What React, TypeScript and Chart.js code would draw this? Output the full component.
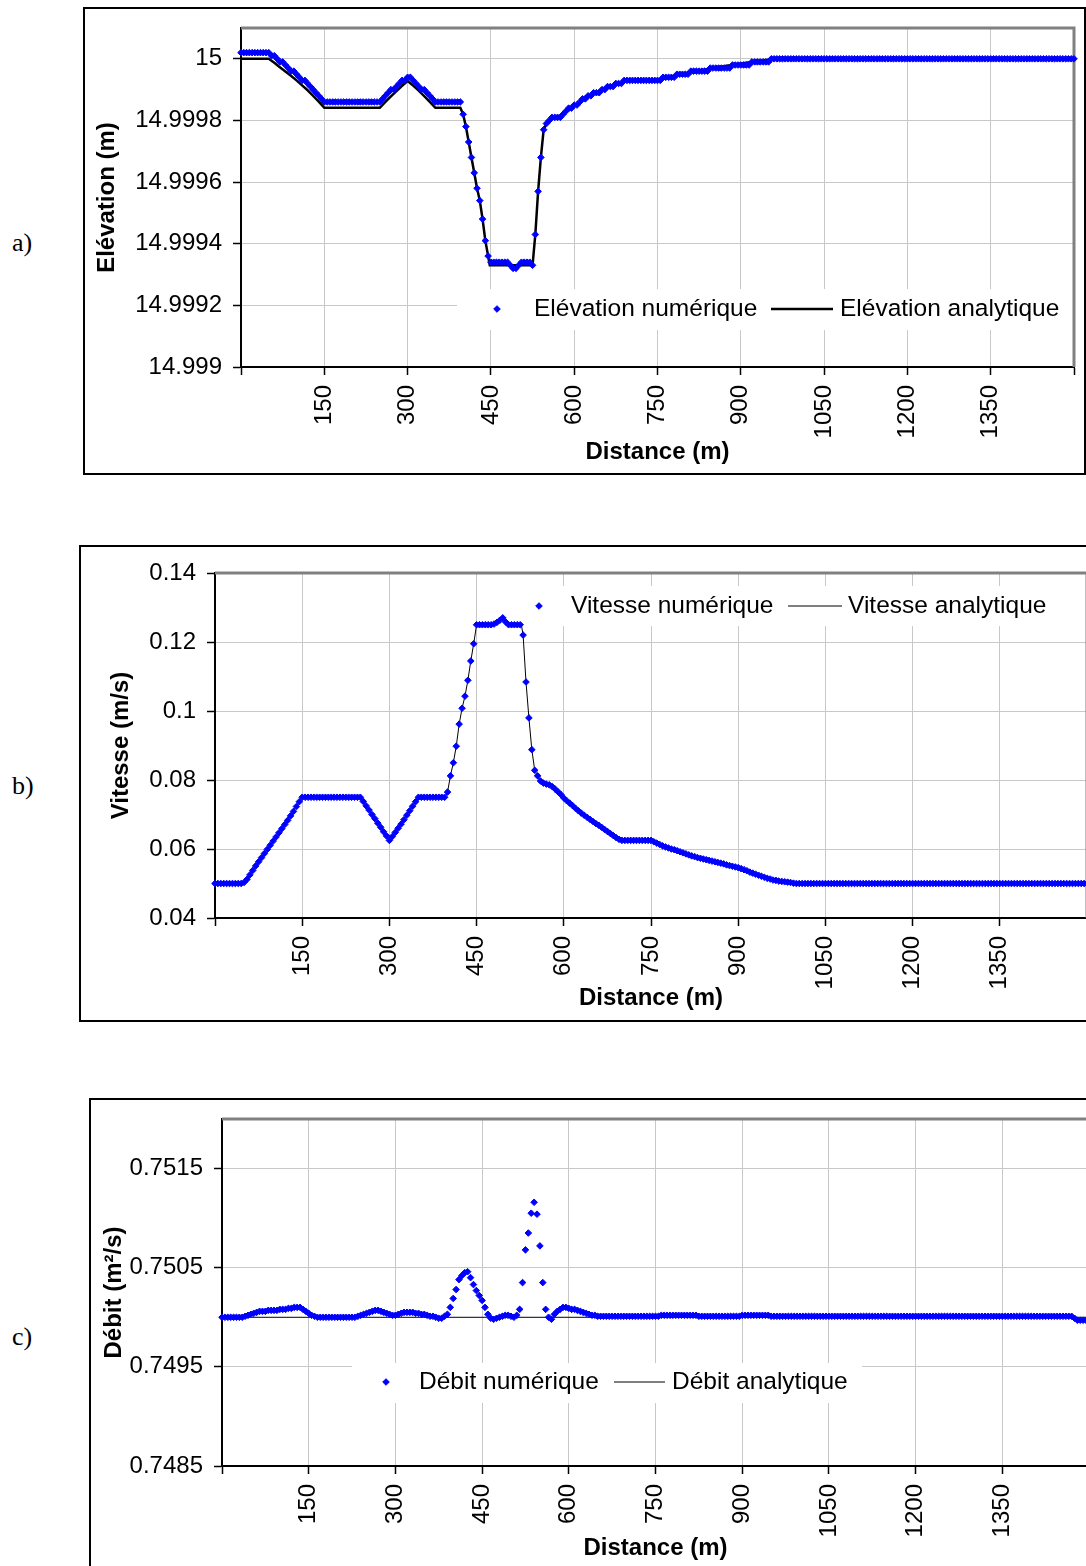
import React, { useEffect, useRef } from 'react';
import { Chart, registerables } from 'chart.js';

Chart.register(...registerables);

// ---------------- data ----------------
// sampling step of the numerical solution (m)
const STEP_M = 5;
const DIST = Array.from({ length: 301 }, (_, i) => i * STEP_M);

const X_TICKS = [0, 150, 300, 450, 600, 750, 900, 1050, 1200, 1350, 1500];
const X_TICK_LABELS = ['', '150', '300', '450', '600', '750', '900', '1050', '1200', '1350', ''];

const ELEV_TICKS = [14.999, 14.9992, 14.9994, 14.9996, 14.9998, 15];
const ELEV_TICK_LABELS = ['14.999', '14.9992', '14.9994', '14.9996', '14.9998', '15'];
const VIT_TICKS = [0.04, 0.06, 0.08, 0.1, 0.12, 0.14];
const VIT_TICK_LABELS = ['0.04', '0.06', '0.08', '0.1', '0.12', '0.14'];
const DEBIT_TICKS = [0.7485, 0.7495, 0.7505, 0.7515];
const DEBIT_TICK_LABELS = ['0.7485', '0.7495', '0.7505', '0.7515'];

// a) Elévation numérique (one value every 5 m, 0 .. 1500 m)
const ELEV_NUM = [
  15.00002,15.00002,15.00002,15.00002,15.00002,15.00002,15.00002,15.00002,15.00002,15.00002,15.00002,15.00001,15.00001,15,14.99999,14.99999,14.99998,14.99997,14.99996,14.99996,
  14.99995,14.99994,14.99993,14.99993,14.99992,14.99991,14.9999,14.99989,14.99988,14.99987,14.99986,14.99986,14.99986,14.99986,14.99986,14.99986,14.99986,14.99986,14.99986,14.99986,
  14.99986,14.99986,14.99986,14.99986,14.99986,14.99986,14.99986,14.99986,14.99986,14.99986,14.99986,14.99987,14.99988,14.99989,14.9999,14.9999,14.99991,14.99992,14.99993,14.99993,
  14.99994,14.99994,14.99993,14.99992,14.99991,14.9999,14.9999,14.99989,14.99988,14.99987,14.99986,14.99986,14.99986,14.99986,14.99986,14.99986,14.99986,14.99986,14.99986,14.99986,
  14.99982,14.99978,14.99973,14.99968,14.99963,14.99958,14.99954,14.99948,14.99941,14.99936,14.99934,14.99934,14.99934,14.99934,14.99934,14.99934,14.99934,14.99933,14.99932,14.99932,
  14.99933,14.99934,14.99934,14.99934,14.99934,14.99933,14.99943,14.99957,14.99968,14.99977,14.99979,14.9998,14.99981,14.99981,14.99981,14.99981,14.99982,14.99983,14.99984,14.99984,
  14.99985,14.99985,14.99986,14.99987,14.99987,14.99988,14.99988,14.99989,14.99989,14.99989,14.9999,14.9999,14.99991,14.99991,14.99991,14.99992,14.99992,14.99992,14.99993,14.99993,
  14.99993,14.99993,14.99993,14.99993,14.99993,14.99993,14.99993,14.99993,14.99993,14.99993,14.99993,14.99993,14.99994,14.99994,14.99994,14.99994,14.99994,14.99995,14.99995,14.99995,
  14.99995,14.99995,14.99996,14.99996,14.99996,14.99996,14.99996,14.99996,14.99996,14.99997,14.99997,14.99997,14.99997,14.99997,14.99997,14.99997,14.99997,14.99998,14.99998,14.99998,
  14.99998,14.99998,14.99998,14.99998,14.99999,14.99999,14.99999,14.99999,14.99999,14.99999,14.99999,15,15,15,15,15,15,15,15,15,
  15,15,15,15,15,15,15,15,15,15,15,15,15,15,15,15,15,15,15,15,
  15,15,15,15,15,15,15,15,15,15,15,15,15,15,15,15,15,15,15,15,
  15,15,15,15,15,15,15,15,15,15,15,15,15,15,15,15,15,15,15,15,
  15,15,15,15,15,15,15,15,15,15,15,15,15,15,15,15,15,15,15,15,
  15,15,15,15,15,15,15,15,15,15,15,15,15,15,15,15,15,15,15,15,
  15,
];

// a) Elévation analytique (break points)
const ELEV_ANA_X = [0,50,60,70,80,90,100,110,120,130,140,150,250,260,270,280,290,300,310,320,330,340,350,395,400,405,410,415,420,425,430,435,440,445,448,525,530,535,540,545,550,560,580,600,620,640,660,680,695,750,800,850,900,950,1000,1500];
const ELEV_ANA_Y = [15,15,14.999987,14.999973,14.999959,14.999945,14.99993,14.999914,14.999898,14.99988,14.999861,14.999841,14.999841,14.99986,14.999878,14.999895,14.999912,14.999928,14.999913,14.999897,14.999879,14.99986,14.999841,14.999841,14.99982,14.99978,14.99973,14.99968,14.99963,14.99958,14.99954,14.99948,14.99941,14.99936,14.99933,14.99933,14.99943,14.99957,14.99968,14.99977,14.99979,14.999805,14.99982,14.999848,14.99987,14.99989,14.999906,14.99992,14.99993,14.99993,14.999953,14.99997,14.999985,14.999997,15,15];

// b) Vitesse numérique (one value every 5 m)
const VIT_NUM = [
  0.05,0.05,0.05,0.05,0.05,0.05,0.05,0.05,0.05,0.05,0.0503,0.0512,0.0525,0.0538,0.0551,0.0563,0.0575,0.0587,0.0599,0.0611,
  0.0623,0.0635,0.0647,0.0659,0.0671,0.0683,0.0696,0.0709,0.0723,0.0737,0.075,0.075,0.075,0.075,0.075,0.075,0.075,0.075,0.075,0.075,
  0.075,0.075,0.075,0.075,0.075,0.075,0.075,0.075,0.075,0.075,0.075,0.0738,0.0725,0.0713,0.07,0.0688,0.0675,0.0663,0.065,0.0638,
  0.0625,0.0636,0.0648,0.066,0.0672,0.0685,0.0698,0.0711,0.0724,0.0737,0.075,0.075,0.075,0.075,0.075,0.075,0.075,0.075,0.075,0.075,
  0.0765,0.0812,0.085,0.0898,0.0962,0.1008,0.1043,0.1089,0.1145,0.1195,0.125,0.125,0.125,0.125,0.125,0.125,0.1252,0.1257,0.1263,0.127,
  0.1258,0.125,0.125,0.125,0.125,0.125,0.122,0.1084,0.098,0.0888,0.0828,0.0812,0.0797,0.0791,0.0788,0.0786,0.0781,0.0774,0.0766,0.0758,
  0.0748,0.074,0.0733,0.0726,0.0718,0.0711,0.0704,0.0698,0.0692,0.0686,0.068,0.0674,0.0669,0.0663,0.0657,0.0651,0.0645,0.0639,0.0633,0.0628,
  0.0625,0.0625,0.0625,0.0625,0.0625,0.0625,0.0625,0.0625,0.0625,0.0625,0.0625,0.0621,0.0617,0.0613,0.0609,0.0606,0.0603,0.06,0.0598,0.0595,
  0.0592,0.0589,0.0586,0.0583,0.058,0.0578,0.0575,0.0573,0.0571,0.0569,0.0567,0.0565,0.0563,0.0561,0.0559,0.0557,0.0554,0.0552,0.055,0.0548,
  0.0546,0.0543,0.054,0.0537,0.0533,0.053,0.0527,0.0524,0.0521,0.0518,0.0515,0.0513,0.051,0.0509,0.0507,0.0506,0.0505,0.0504,0.0503,0.0501,
  0.05,0.05,0.05,0.05,0.05,0.05,0.05,0.05,0.05,0.05,0.05,0.05,0.05,0.05,0.05,0.05,0.05,0.05,0.05,0.05,
  0.05,0.05,0.05,0.05,0.05,0.05,0.05,0.05,0.05,0.05,0.05,0.05,0.05,0.05,0.05,0.05,0.05,0.05,0.05,0.05,
  0.05,0.05,0.05,0.05,0.05,0.05,0.05,0.05,0.05,0.05,0.05,0.05,0.05,0.05,0.05,0.05,0.05,0.05,0.05,0.05,
  0.05,0.05,0.05,0.05,0.05,0.05,0.05,0.05,0.05,0.05,0.05,0.05,0.05,0.05,0.05,0.05,0.05,0.05,0.05,0.05,
  0.05,0.05,0.05,0.05,0.05,0.05,0.05,0.05,0.05,0.05,0.05,0.05,0.05,0.05,0.05,0.05,0.05,0.05,0.05,0.05,
  0.05,
];

// b) Vitesse analytique (break points)
const VIT_ANA_X = [0,50,100,150,250,300,350,395,400,405,410,415,420,425,430,435,440,445,450,475,480,485,490,495,500,505,527,530,535,540,545,550,555,560,570,580,600,620,640,660,680,700,750,800,850,900,950,1000,1500];
const VIT_ANA_Y = [0.05,0.05,0.0623,0.075,0.075,0.0625,0.075,0.075,0.0765,0.0812,0.085,0.0898,0.0962,0.1008,0.1043,0.1089,0.1145,0.1195,0.125,0.125,0.1252,0.1257,0.1263,0.127,0.1258,0.125,0.125,0.122,0.1084,0.098,0.0888,0.0828,0.0812,0.0797,0.0788,0.0781,0.0748,0.0718,0.0692,0.0669,0.0645,0.0625,0.0625,0.0592,0.0567,0.0546,0.0515,0.05,0.05];

// c) Débit numérique (one value every 5 m)
const DEBIT_NUM = [
  0.75,0.75,0.75,0.75,0.75,0.75,0.75,0.75,0.75001,0.75002,0.75003,0.75004,0.75005,0.75006,0.75006,0.75006,0.75007,0.75007,0.75007,0.75007,
  0.75008,0.75008,0.75008,0.75009,0.75009,0.7501,0.7501,0.7501,0.75008,0.75006,0.75004,0.75002,0.75001,0.75,0.75,0.75,0.75,0.75,0.75,0.75,
  0.75,0.75,0.75,0.75,0.75,0.75,0.75,0.75001,0.75002,0.75003,0.75004,0.75005,0.75006,0.75007,0.75007,0.75006,0.75005,0.75004,0.75003,0.75002,
  0.75002,0.75003,0.75004,0.75005,0.75005,0.75005,0.75005,0.75004,0.75004,0.75003,0.75003,0.75002,0.75001,0.75001,0.75,0.74999,0.74999,0.75001,0.75003,0.7501,
  0.75019,0.75028,0.75038,0.75042,0.75045,0.75046,0.7504,0.75033,0.75027,0.75022,0.75017,0.7501,0.75003,0.74999,0.74998,0.74999,0.75,0.75001,0.75002,0.75002,
  0.75001,0.75,0.75002,0.75008,0.75035,0.75068,0.75085,0.75105,0.75116,0.75104,0.75072,0.75035,0.75008,0.75,0.74998,0.75003,0.75006,0.75008,0.7501,0.7501,
  0.75009,0.75008,0.75008,0.75007,0.75006,0.75005,0.75004,0.75003,0.75002,0.75002,0.75001,0.75001,0.75001,0.75001,0.75001,0.75001,0.75001,0.75001,0.75001,0.75001,
  0.75001,0.75001,0.75001,0.75001,0.75001,0.75001,0.75001,0.75001,0.75001,0.75001,0.75001,0.75001,0.75002,0.75002,0.75002,0.75002,0.75002,0.75002,0.75002,0.75002,
  0.75002,0.75002,0.75002,0.75002,0.75002,0.75001,0.75001,0.75001,0.75001,0.75001,0.75001,0.75001,0.75001,0.75001,0.75001,0.75001,0.75001,0.75001,0.75001,0.75001,
  0.75002,0.75002,0.75002,0.75002,0.75002,0.75002,0.75002,0.75002,0.75002,0.75002,0.75001,0.75001,0.75001,0.75001,0.75001,0.75001,0.75001,0.75001,0.75001,0.75001,
  0.75001,0.75001,0.75001,0.75001,0.75001,0.75001,0.75001,0.75001,0.75001,0.75001,0.75001,0.75001,0.75001,0.75001,0.75001,0.75001,0.75001,0.75001,0.75001,0.75001,
  0.75001,0.75001,0.75001,0.75001,0.75001,0.75001,0.75001,0.75001,0.75001,0.75001,0.75001,0.75001,0.75001,0.75001,0.75001,0.75001,0.75001,0.75001,0.75001,0.75001,
  0.75001,0.75001,0.75001,0.75001,0.75001,0.75001,0.75001,0.75001,0.75001,0.75001,0.75001,0.75001,0.75001,0.75001,0.75001,0.75001,0.75001,0.75001,0.75001,0.75001,
  0.75001,0.75001,0.75001,0.75001,0.75001,0.75001,0.75001,0.75001,0.75001,0.75001,0.75001,0.75001,0.75001,0.75001,0.75001,0.75001,0.75001,0.75001,0.75001,0.75001,
  0.75001,0.75001,0.75001,0.75001,0.75001,0.75001,0.75001,0.75001,0.75001,0.75001,0.75001,0.75001,0.75001,0.75001,0.75001,0.74999,0.74997,0.74997,0.74997,0.74997,
  0.74997,
];

// c) Débit analytique (break points)
const DEBIT_ANA_X = [0, 1500];
const DEBIT_ANA_Y = [0.75, 0.75];

// ---------------- styling ----------------
const FONT = "'Liberation Sans', Arial, Helvetica, sans-serif";
const SERIF = "'Liberation Serif', 'Times New Roman', serif";
const BLUE = '#0000ff';
const GRID = '#c8c8c8';
const PLOT_BORDER = '#808080';
const MARKER_R = 3.3;
const MARKER_BW = 1;
const TICK_FONT = 24;
const LEGEND_FONT = 24.5;

type Rect = { left: number; top: number; width: number; height: number };
type Legend = {
  box: [number, number, number, number];
  cy: number;
  markerX: number;
  text1X: number;
  text1: string;
  line: [number, number];
  lineWidth: number;
  text2X: number;
  text2: string;
};
type Panel = {
  letter: string;
  letterTop: number;
  frame: Rect;
  canvas: Rect;
  area: { left: number; top: number; right: number; bottom: number };
  yMin: number;
  yMax: number;
  yTicks: number[];
  yLabels: string[];
  yTitle: string;
  yTitlePad: number;
  xTitlePad: number;
  numeric: number[];
  anaX: number[];
  anaY: number[];
  anaWidth: number;
  legend: Legend;
};

const PANELS: Panel[] = [
  {
    letter: 'a)',
    letterTop: 228,
    frame: { left: 83, top: 7, width: 1003, height: 468 },
    canvas: { left: 85, top: 9, width: 999, height: 464 },
    area: { left: 241, top: 28, right: 1074, bottom: 367 },
    yMin: 14.999,
    yMax: 15.0001,
    yTicks: ELEV_TICKS,
    yLabels: ELEV_TICK_LABELS,
    yTitle: 'Elévation (m)',
    yTitlePad: 8,
    xTitlePad: 6,
    numeric: ELEV_NUM,
    anaX: ELEV_ANA_X,
    anaY: ELEV_ANA_Y,
    anaWidth: 2.5,
    legend: {
      box: [457, 289, 1074, 330],
      cy: 309,
      markerX: 497,
      text1X: 534,
      text1: 'Elévation numérique',
      line: [771, 833],
      lineWidth: 2.5,
      text2X: 840,
      text2: 'Elévation analytique',
    },
  },
  {
    letter: 'b)',
    letterTop: 771,
    frame: { left: 79, top: 545, width: 1100, height: 477 },
    canvas: { left: 81, top: 547, width: 1019, height: 473 },
    area: { left: 215, top: 573, right: 1087, bottom: 918 },
    yMin: 0.04,
    yMax: 0.14,
    yTicks: VIT_TICKS,
    yLabels: VIT_TICK_LABELS,
    yTitle: 'Vitesse (m/s)',
    yTitlePad: 26,
    xTitlePad: 7,
    numeric: VIT_NUM,
    anaX: VIT_ANA_X,
    anaY: VIT_ANA_Y,
    anaWidth: 1,
    legend: {
      box: [526, 586, 1100, 626],
      cy: 606,
      markerX: 539,
      text1X: 571,
      text1: 'Vitesse numérique',
      line: [788, 842],
      lineWidth: 1,
      text2X: 848,
      text2: 'Vitesse analytique',
    },
  },
  {
    letter: 'c)',
    letterTop: 1322,
    frame: { left: 89, top: 1098, width: 1100, height: 500 },
    canvas: { left: 91, top: 1100, width: 1010, height: 466 },
    area: { left: 222, top: 1119, right: 1089, bottom: 1466 },
    yMin: 0.7485,
    yMax: 0.752,
    yTicks: DEBIT_TICKS,
    yLabels: DEBIT_TICK_LABELS,
    yTitle: 'Débit (m²/s)',
    yTitlePad: 9,
    xTitlePad: 3,
    numeric: DEBIT_NUM,
    anaX: DEBIT_ANA_X,
    anaY: DEBIT_ANA_Y,
    anaWidth: 1,
    legend: {
      box: [352, 1363, 862, 1403],
      cy: 1382,
      markerX: 386,
      text1X: 419,
      text1: 'Débit numérique',
      line: [614, 665],
      lineWidth: 1,
      text2X: 672,
      text2: 'Débit analytique',
    },
  },
];

function drawDiamond(ctx: CanvasRenderingContext2D, x: number, y: number) {
  ctx.beginPath();
  ctx.moveTo(x - MARKER_R, y);
  ctx.lineTo(x, y - MARKER_R);
  ctx.lineTo(x + MARKER_R, y);
  ctx.lineTo(x, y + MARKER_R);
  ctx.closePath();
  ctx.fillStyle = BLUE;
  ctx.fill();
  ctx.lineWidth = MARKER_BW;
  ctx.strokeStyle = BLUE;
  ctx.stroke();
}

function buildConfig(p: Panel): any {
  const c = p.canvas;
  const a = p.area;
  const yAxisW = a.left - c.left;
  const xAxisH = c.top + c.height - a.bottom;
  const padTop = a.top - c.top;
  const padRight = c.left + c.width - a.right;
  const ox = c.left;
  const oy = c.top;

  const overlay = {
    id: 'legendAndFrame',
    beforeDatasetsDraw(chart: any) {
      const ctx: CanvasRenderingContext2D = chart.ctx;
      const ca = chart.chartArea;
      const L = p.legend;
      ctx.save();
      ctx.fillStyle = '#ffffff';
      ctx.fillRect(L.box[0] - ox, L.box[1] - oy, L.box[2] - L.box[0], L.box[3] - L.box[1]);
      drawDiamond(ctx, L.markerX - ox, L.cy - oy);
      ctx.font = `${LEGEND_FONT}px ${FONT}`;
      ctx.fillStyle = '#000';
      ctx.textBaseline = 'middle';
      ctx.textAlign = 'left';
      ctx.fillText(L.text1, L.text1X - ox, L.cy - oy);
      ctx.beginPath();
      ctx.moveTo(L.line[0] - ox, L.cy - oy);
      ctx.lineTo(L.line[1] - ox, L.cy - oy);
      ctx.lineWidth = L.lineWidth;
      ctx.strokeStyle = '#000';
      ctx.stroke();
      ctx.fillText(L.text2, L.text2X - ox, L.cy - oy);
      // plot-area border (top and right, gray)
      ctx.beginPath();
      ctx.moveTo(ca.left, ca.top);
      ctx.lineTo(ca.right, ca.top);
      ctx.lineTo(ca.right, ca.bottom);
      ctx.lineWidth = 3;
      ctx.strokeStyle = PLOT_BORDER;
      ctx.stroke();
      ctx.restore();
    },
  };

  return {
    type: 'scatter',
    data: {
      datasets: [
        {
          label: p.legend.text1,
          data: DIST.map((d, i) => ({ x: d, y: p.numeric[i] })),
          showLine: false,
          pointStyle: 'rectRot',
          pointRadius: MARKER_R,
          pointHoverRadius: MARKER_R,
          pointBorderWidth: MARKER_BW,
          pointHoverBorderWidth: MARKER_BW,
          pointBorderColor: BLUE,
          pointBackgroundColor: BLUE,
          clip: false,
        },
        {
          label: p.legend.text2,
          data: p.anaX.map((x, i) => ({ x, y: p.anaY[i] })),
          showLine: true,
          borderColor: '#000',
          borderWidth: p.anaWidth,
          pointRadius: 0,
          pointHoverRadius: 0,
          tension: 0,
          fill: false,
        },
      ],
    },
    options: {
      animation: false,
      responsive: false,
      maintainAspectRatio: false,
      devicePixelRatio: 1,
      events: [],
      layout: { padding: { left: 0, top: padTop, right: padRight, bottom: 0 } },
      plugins: { legend: { display: false }, tooltip: { enabled: false }, title: { display: false } },
      scales: {
        x: {
          type: 'linear',
          min: 0,
          max: 1500,
          afterBuildTicks: (ax: any) => {
            ax.ticks = X_TICKS.map((v) => ({ value: v }));
          },
          afterFit: (ax: any) => {
            ax.height = xAxisH;
            ax.paddingLeft = 0;
            ax.paddingRight = 0;
          },
          ticks: {
            autoSkip: false,
            minRotation: 90,
            maxRotation: 90,
            padding: 10,
            color: '#000',
            font: { family: FONT, size: TICK_FONT },
            callback: (_v: any, i: number) => X_TICK_LABELS[i],
          },
          grid: { color: GRID, lineWidth: 1, tickColor: '#000', tickLength: 8, tickWidth: 1.5 },
          border: { color: '#000', width: 2 },
          title: {
            display: true,
            text: 'Distance (m)',
            color: '#000',
            font: { family: FONT, size: 24, weight: 'bold' },
            padding: { top: 0, bottom: p.xTitlePad },
          },
        },
        y: {
          type: 'linear',
          min: p.yMin,
          max: p.yMax,
          afterBuildTicks: (ax: any) => {
            ax.ticks = p.yTicks.map((v) => ({ value: v }));
          },
          afterFit: (ax: any) => {
            ax.width = yAxisW;
            ax.paddingTop = 0;
            ax.paddingBottom = 0;
          },
          ticks: {
            autoSkip: false,
            padding: 11,
            color: '#000',
            font: { family: FONT, size: TICK_FONT },
            callback: (_v: any, i: number) => p.yLabels[i],
          },
          grid: { color: GRID, lineWidth: 1, tickColor: '#000', tickLength: 8, tickWidth: 1.5 },
          border: { color: '#000', width: 2 },
          title: {
            display: true,
            text: p.yTitle,
            color: '#000',
            font: { family: FONT, size: 24, weight: 'bold' },
            padding: { top: p.yTitlePad, bottom: 0 },
          },
        },
      },
    },
    plugins: [overlay],
  };
}

function PanelChart({ panel }: { panel: Panel }) {
  const ref = useRef<HTMLCanvasElement | null>(null);
  useEffect(() => {
    if (!ref.current) return;
    const chart = new Chart(ref.current, buildConfig(panel));
    return () => chart.destroy();
  }, [panel]);
  const c = panel.canvas;
  const f = panel.frame;
  return (
    <>
      <div
        style={{
          position: 'absolute',
          left: f.left,
          top: f.top,
          width: f.width,
          height: f.height,
          border: '2px solid #000',
          boxSizing: 'border-box',
        }}
      />
      <canvas
        ref={ref}
        width={c.width}
        height={c.height}
        style={{ position: 'absolute', left: c.left, top: c.top, width: c.width, height: c.height }}
      />
      <div
        style={{
          position: 'absolute',
          left: 12,
          top: panel.letterTop,
          fontFamily: SERIF,
          fontSize: 26,
          lineHeight: '30px',
          color: '#000',
        }}
      >
        {panel.letter}
      </div>
    </>
  );
}

export default function App() {
  Chart.defaults.font.family = FONT;
  return (
    <div
      style={{
        position: 'fixed',
        left: 0,
        top: 0,
        width: 1086,
        height: 1566,
        overflow: 'hidden',
        background: '#ffffff',
      }}
    >
      {PANELS.map((p) => (
        <PanelChart key={p.letter} panel={p} />
      ))}
    </div>
  );
}
